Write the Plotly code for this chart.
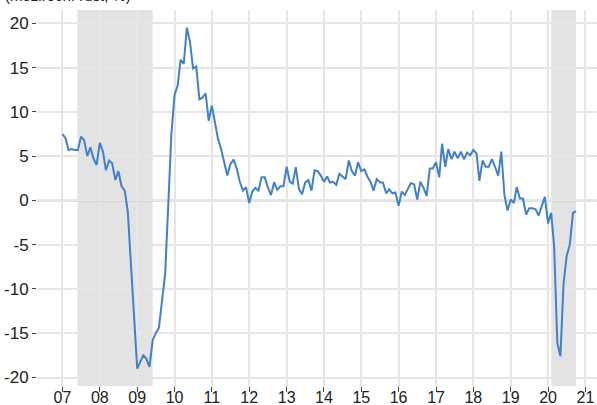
import pandas as pd
import plotly.graph_objects as go

# Monthly y/y growth, Jan 2007 - Oct 2020
start_month = "2007-01-01"
values = [
    7.5, 7.0, 5.7, 5.8, 5.7, 5.7, 7.2, 6.8, 5.0, 6.0, 4.7, 4.0,
    6.5, 5.5, 3.4, 4.5, 4.2, 2.3, 3.3, 1.6, 1.1, -1.3, -7.3, -13.3,
    -19.0, -18.2, -17.5, -17.9, -18.8, -15.8, -15.0, -14.4, -11.4, -8.3, -0.4, 7.5,
    11.9, 13.0, 15.9, 15.4, 19.5, 17.9, 14.9, 15.1, 11.4, 11.6, 12.1, 9.0,
    10.7, 8.7, 7.0, 5.8, 4.3, 2.8, 4.1, 4.6, 3.6, 2.1, 1.1, 1.5,
    -0.3, 1.0, 1.4, 1.1, 2.6, 2.6, 1.5, 0.6, 2.05, 1.2, 1.6, 1.6,
    3.8, 2.1, 1.9, 3.75, 1.3, 0.7, 2.0, 2.3, 1.1, 3.4, 3.3, 2.8,
    2.1, 2.7, 2.0, 2.1, 1.75, 3.0, 2.7, 2.4, 4.5, 3.3, 2.8, 4.3,
    3.3, 3.5, 2.7, 2.1, 1.1, 2.4, 2.05, 2.0, 0.8, 1.25, 0.8, 0.9,
    -0.6, 1.0, 0.6, 1.3, 1.95, 1.8, 0.1, 2.1, 1.4, 0.5, 3.6, 3.6,
    4.3, 2.6, 6.4, 3.8, 5.8, 4.65, 5.5, 4.75, 5.5, 4.65, 5.4, 5.1,
    5.7, 5.3, 2.2, 4.5, 3.8, 3.8, 4.65, 3.8, 2.8, 5.5, 0.6, -1.15,
    0.1, -0.3, 1.5, 0.2, 0.2, -1.6, -0.9, -0.9, -1.0, -1.7, -0.6, 0.4,
    -2.6, -1.4, -5.2, -16.1, -17.6, -9.4, -6.3, -5.0, -1.4, -1.2,
]
dates = pd.date_range(start_month, periods=len(values), freq="MS")

# Shaded periods (recessions)
shade_starts = ["2007-05-28", "2020-02-01"]
shade_ends = ["2009-06-01", "2020-10-01"]

# Axis ticks
x_tick_years = list(range(2007, 2022))
x_tick_labels = [f"{y % 100:02d}" for y in x_tick_years]
y_tick_vals = [-20, -15, -10, -5, 0, 5, 10, 15, 20]
y_tick_labels = [str(v) for v in y_tick_vals]

title_text = "(meziroční růst, %)"

FONT = "Liberation Sans, Arial, sans-serif"

fig = go.Figure()
fig.add_trace(go.Scatter(
    x=dates, y=values, mode="lines",
    line=dict(color="#4080cc", width=2),
    hoverinfo="x+y", showlegend=False,
))

for s, e in zip(shade_starts, shade_ends):
    fig.add_shape(type="rect", xref="x", yref="paper", x0=s, x1=e, y0=0, y1=1,
                  fillcolor="#e3e3e3", line=dict(width=0), layer="between")

fig.add_shape(type="line", xref="paper", yref="y", x0=0, x1=1, y0=0, y1=0,
              line=dict(color="#c4c4c4", width=2), layer="between")

fig.add_annotation(text=title_text, xref="paper", yref="paper", x=-0.061, y=1.039,
                   xanchor="left", yanchor="middle", showarrow=False,
                   font=dict(family=FONT, size=15, color="#222222"))

fig.update_layout(
    width=597, height=405,
    margin=dict(l=37, r=0, t=10, b=19),
    paper_bgcolor="white", plot_bgcolor="white",
    font=dict(family=FONT, size=17, color="#222222"),
    xaxis=dict(
        type="date",
        range=["2006-04-27", "2021-04-24"],
        tickvals=[f"{y}-01-01" for y in x_tick_years],
        ticktext=x_tick_labels,
        tickfont=dict(size=16),
        showgrid=True, gridcolor="#e6e6e6", gridwidth=1.5,
        ticks="outside", ticklen=5, tickcolor="#444444", tickwidth=1,
        ticklabelstandoff=-8,
        showline=False, zeroline=False, automargin=False,
    ),
    yaxis=dict(
        range=[-20.96, 21.5],
        tickvals=y_tick_vals, ticktext=y_tick_labels,
        showgrid=True, gridcolor="#e6e6e6", gridwidth=1.5,
        ticks="outside", ticklen=4, tickcolor="#444444", tickwidth=1,
        showline=False, zeroline=False, automargin=False,
    ),
)

fig.write_html("out.html", config={"displayModeBar": False},
               post_script="document.body.style.margin='0';")
